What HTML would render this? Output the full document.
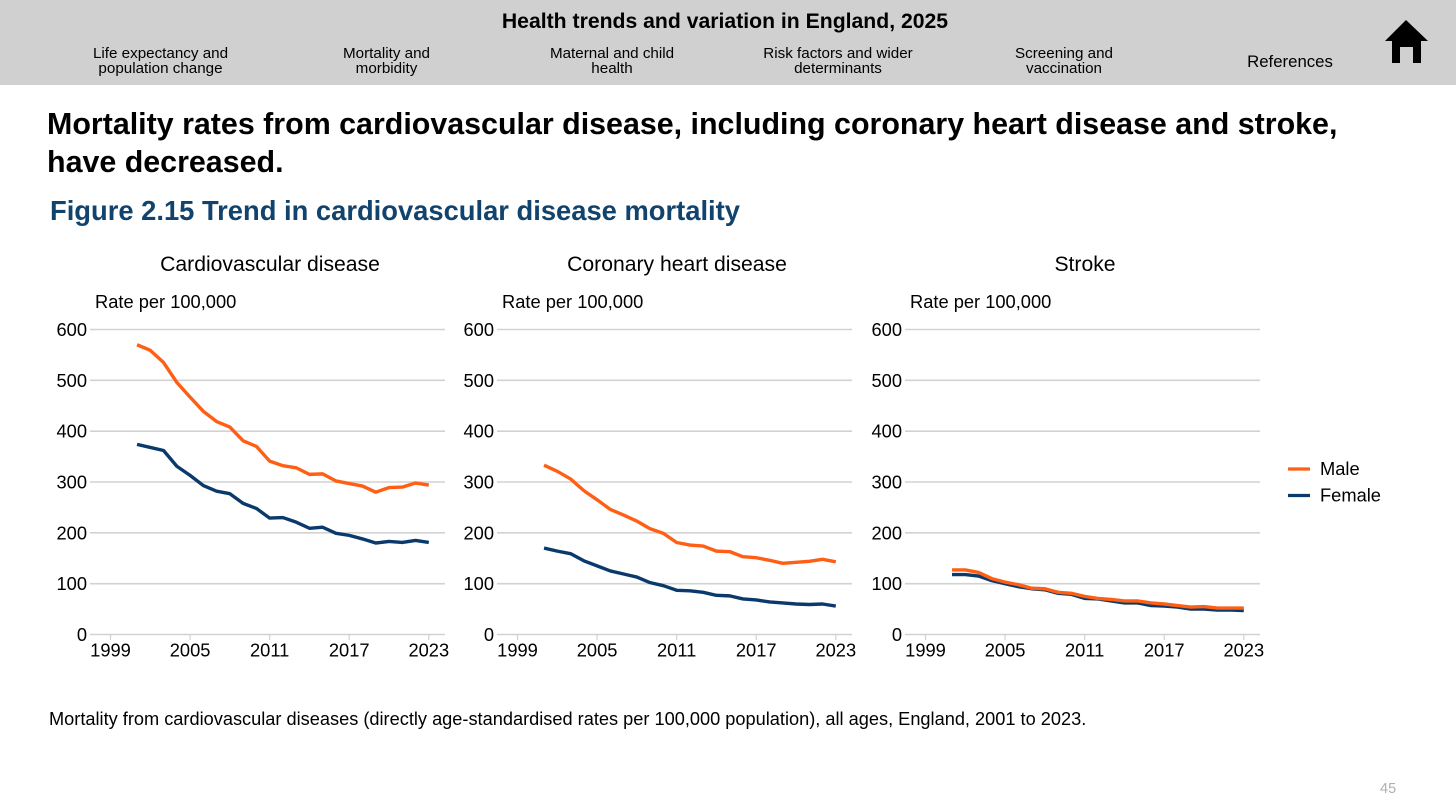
<!DOCTYPE html>
<html lang="en">
<head>
<meta charset="utf-8">
<title>Trend in cardiovascular disease mortality</title>
<style>
html,body{margin:0;padding:0;background:#fff;}
body{width:1456px;height:812px;overflow:hidden;position:relative;font-family:"Liberation Sans",Arial,sans-serif;color:#000;}
.abs{position:absolute;}
#header-bar{left:0;top:0;width:1456px;height:85px;background:#d0d0d0;}
.nav{position:absolute;text-align:center;font-size:15.2px;line-height:14.5px;transform:translateX(-50%);white-space:nowrap;}
svg text{font-family:"Liberation Sans",Arial,sans-serif;}
</style>
</head>
<body>
<div class="abs" id="header-bar"></div>
<div class="abs" style="left:0;width:1450px;text-align:center;top:10px;font-size:21.2px;line-height:24px;font-weight:bold;">Health trends and variation in England, 2025</div>
<div class="nav" style="left:160.5px;top:47px;">Life expectancy and<br>population change</div>
<div class="nav" style="left:386.5px;top:47px;">Mortality and<br>morbidity</div>
<div class="nav" style="left:612px;top:47px;">Maternal and child<br>health</div>
<div class="nav" style="left:838px;top:47px;">Risk factors and wider<br>determinants</div>
<div class="nav" style="left:1064px;top:47px;">Screening and<br>vaccination</div>
<div class="nav" style="left:1290px;top:53px;font-size:16.8px;line-height:17px;">References</div>
<svg class="abs" style="left:0;top:0;" width="1456" height="85" viewBox="0 0 1456 85">
<polygon points="1406,20 1428,41 1421,41 1421,63 1413,63 1413,47 1400,47 1400,63 1392,63 1392,41 1385,41" fill="#000"/>
</svg>
<div class="abs" style="left:47px;top:105px;width:1340px;font-size:30.4px;line-height:38px;font-weight:bold;">Mortality rates from cardiovascular disease, including coronary heart disease and stroke,<br>have decreased.</div>
<div class="abs" style="left:50px;top:193.5px;font-size:27.35px;line-height:33px;font-weight:bold;color:#12436d;white-space:nowrap;">Figure 2.15 Trend in cardiovascular disease mortality</div>
<svg class="abs" id="charts" style="left:0;top:0;" width="1456" height="812"></svg>
<div class="abs" style="left:49px;top:709px;font-size:18.2px;line-height:21px;white-space:nowrap;">Mortality from cardiovascular diseases (directly age-standardised rates per 100,000 population), all ages, England, 2001 to 2023.</div>
<div class="abs" style="left:1380px;top:781px;font-size:14.5px;line-height:17px;color:#b0b0b0;">45</div>
<script>
const years = [2001,2002,2003,2004,2005,2006,2007,2008,2009,2010,2011,2012,2013,2014,2015,2016,2017,2018,2019,2020,2021,2022,2023];
const xTicks = [1999,2005,2011,2017,2023];
const yTicks = [0,100,200,300,400,500,600];
const panelTitles = ["Cardiovascular disease","Coronary heart disease","Stroke"];
const seriesNames = ["Male","Female"];
const cvdMale = [570,559,535,496,467,439,419,408,381,370,341,332,328,315,316,302,297,292,280,289,290,298,294];
const cvdFemale = [374,368,362,331,313,293,282,277,258,248,229,230,221,209,211,199,195,188,180,183,181,185,181];
const chdMale = [333,321,306,283,265,246,235,223,208,199,181,176,174,164,163,153,151,146,140,142,144,148,143];
const chdFemale = [170,164,159,145,135,125,119,113,102,96,87,86,83,77,76,70,68,64,62,60,59,60,56];
const strokeMale = [127,127,122,110,103,98,91,90,83,81,75,71,69,66,66,62,60,57,54,55,52,52,52];
const strokeFemale = [118,118,115,106,100,94,90,88,81,79,71,70,66,62,62,57,56,54,50,50,48,48,47];

const SVGNS = "http://www.w3.org/2000/svg";
const svg = document.getElementById("charts");
const colors = ["#ff5f14","#0a3a6b"];
const panels = [
  {left:90, male:cvdMale, female:cvdFemale, key:"cvd"},
  {left:497, male:chdMale, female:chdFemale, key:"chd"},
  {left:905, male:strokeMale, female:strokeFemale, key:"stroke"}
];
function yScale(v){ return 634.5 - v * 305 / 600; }
function xScale(left, yr){ return left + 20.5 + (yr - 1999) * 318.3 / 24; }
function make(tag, attrs, name, text){
  const el = document.createElementNS(SVGNS, tag);
  for (const k in attrs) el.setAttribute(k, attrs[k]);
  
  
  if (text !== undefined) el.textContent = text;
  svg.appendChild(el);
  return el;
}
panels.forEach(function(p, i){
  make("text",{x:p.left+180,y:271,"text-anchor":"middle","font-size":"21.15"},"panel-title-"+p.key,panelTitles[i]);
  make("text",{x:p.left+5,y:308,"font-size":"18.3"},"y-axis-title-"+p.key,"Rate per 100,000");
  yTicks.forEach(function(t){
    const y = yScale(t);
    make("line",{x1:p.left,x2:p.left+355,y1:y,y2:y,stroke:"#d2d2d2","stroke-width":"1.6"},"gridline-"+p.key+"-"+t);
    make("text",{x:p.left-3,y:y+6.5,"text-anchor":"end","font-size":"18.3"},"y-tick-"+p.key+"-"+t,String(t));
  });
  xTicks.forEach(function(t){
    const x = xScale(p.left,t);
    make("line",{x1:x,x2:x,y1:634.5,y2:640,stroke:"#d2d2d2","stroke-width":"1.2"},"x-tick-mark-"+p.key+"-"+t);
    make("text",{x:x,y:656.5,"text-anchor":"middle","font-size":"18.3"},"x-tick-"+p.key+"-"+t,String(t));
  });
  [p.female,p.male].forEach(function(vals){
    const idx = vals === p.male ? 0 : 1;
    const pts = vals.map(function(v,j){ return xScale(p.left,years[j]).toFixed(2)+","+yScale(v).toFixed(2); }).join(" ");
    make("polyline",{points:pts,fill:"none",stroke:colors[idx],"stroke-width":"3.4","stroke-linejoin":"round"},"line-"+p.key+"-"+seriesNames[idx].toLowerCase());
  });
});
seriesNames.forEach(function(n,i){
  const y = 469 + i*26.5;
  make("line",{x1:1288,x2:1310,y1:y,y2:y,stroke:colors[i],"stroke-width":"3.2"},"legend-line-"+n.toLowerCase());
  make("text",{x:1320,y:y+6,"font-size":"18.3"},"legend-label-"+n.toLowerCase(),n);
});
</script>
</body>
</html>
